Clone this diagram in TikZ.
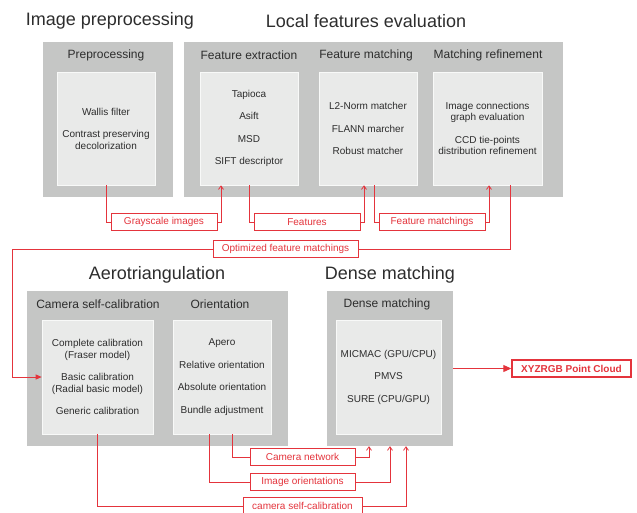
\documentclass[tikz,border=0pt]{standalone}
\usepackage{fontspec}
\setmainfont{Liberation Sans}
\usetikzlibrary{arrows.meta}
\definecolor{outerg}{RGB}{197,198,197}
\definecolor{innerg}{RGB}{233,234,233}
\definecolor{lred}{RGB}{228,52,60}
\definecolor{txt}{RGB}{45,45,45}
\tikzset{
  title/.style={font=\fontsize{18}{20}\selectfont, text=txt},
  seclabel/.style={font=\fontsize{12}{14}\selectfont, text=txt},
  outerbox/.style={fill=outerg, draw=none, inner sep=0pt},
  innerbox/.style={fill=innerg, draw=white!70!innerg, line width=0.6pt, inner sep=0pt, align=center, text=txt, font=\fontsize{10}{11.5}\selectfont},
  tag/.style={draw=lred, fill=white, line width=0.8pt, text=lred, font=\fontsize{10}{12}\selectfont, inner sep=0pt, minimum height=17pt},
  conn/.style={draw=lred, line width=0.8pt},
  arr/.style={conn, -{Straight Barb[length=3.5pt,width=5pt]}},
  bigarr/.style={conn, line width=1pt, -{Triangle[length=8pt,width=7pt]}},
}
\begin{document}
\begin{tikzpicture}[x=1pt,y=-1pt]
\useasboundingbox (0,0) rectangle (637,512);
% titles
\node[title] (t1) at (110,21) {Image preprocessing};
\node[title] (t2) at (366,21) {Local features evaluation};
\node[title] (t3) at (157,275) {Aerotriangulation};
\node[title] (t4) at (390,275) {Dense matching};
% outer boxes
\node[outerbox, minimum width=130pt, minimum height=155pt] (preOut) at (108,119.5) {};
\node[outerbox, minimum width=379pt, minimum height=155pt] (lfeOut) at (373.5,119.5) {};
\node[outerbox, minimum width=261pt, minimum height=155pt] (aeroOut) at (157.5,368.5) {};
\node[outerbox, minimum width=126pt, minimum height=155pt] (denseOut) at (390,368.5) {};
% section labels
\node[seclabel] (l1) at (106,55) {Preprocessing};
\node[seclabel] (l2) at (249,55) {Feature extraction};
\node[seclabel] (l3) at (366,55) {Feature matching};
\node[seclabel] (l4) at (488,55) {Matching refinement};
\node[seclabel] (l5) at (98,304) {Camera self-calibration};
\node[seclabel] (l6) at (220,304) {Orientation};
\node[seclabel] (l7) at (387,304) {Dense matching};
% inner boxes
\node[innerbox, minimum width=98pt, minimum height=113pt] (preIn) at (106,128.5)
  {Wallis filter\\[11pt]Contrast preserving\\decolorization};
\node[innerbox, minimum width=98pt, minimum height=113pt] (feIn) at (249,128.5)
  {Tapioca\\[11pt]Asift\\[11pt]MSD\\[11pt]SIFT descriptor};
\node[innerbox, minimum width=98pt, minimum height=113pt] (fmIn) at (368,128.5)
  {L2-Norm matcher\\[11pt]FLANN marcher\\[11pt]Robust matcher};
\node[innerbox, minimum width=109pt, minimum height=113pt] (mrIn) at (487.5,128.5)
  {Image connections\\graph evaluation\\[11pt]CCD tie-points\\distribution refinement};
\node[innerbox, minimum width=111pt, minimum height=114pt] (camIn) at (97.5,377)
  {Complete calibration\\(Fraser model)\\[11pt]Basic calibration\\(Radial basic model)\\[11pt]Generic calibration};
\node[innerbox, minimum width=98pt, minimum height=114pt] (oriIn) at (222,377)
  {Apero\\[11pt]Relative orientation\\[11pt]Absolute orientation\\[11pt]Bundle adjustment};
\node[innerbox, minimum width=105pt, minimum height=114pt] (denseIn) at (388.5,377)
  {MICMAC (GPU/CPU)\\[11pt]PMVS\\[11pt]SURE (CPU/GPU)};
% tags
\node[tag, minimum width=106pt] (gray) at (164,222) {Grayscale images};
\node[tag, minimum width=106pt] (feat) at (307,222) {Features};
\node[tag, minimum width=106pt] (fmat) at (432,222) {Feature matchings};
\node[tag, minimum width=145pt] (opt) at (285.5,249) {Optimized feature matchings};
\node[tag, minimum width=105pt] (camnet) at (302.5,457) {Camera network};
\node[tag, minimum width=105pt] (imgor) at (302.5,482) {Image orientations};
\node[tag, minimum width=119pt] (camsc) at (302.5,506) {camera self-calibration};
\node[draw=lred, fill=white, line width=1.4pt, text=lred, font=\fontsize{10}{12}\selectfont\bfseries, inner sep=0pt, minimum width=119pt, minimum height=17pt] (xyz) at (571.5,368.5) {XYZRGB Point Cloud};
% connectors
\draw[conn] (preIn.south) |- (gray.west);
\draw[arr] (gray.east) -| ([xshift=-28pt]feIn.south);
\draw[conn] (feIn.south) |- (feat.west);
\draw[arr] (feat.east) -| ([xshift=-4pt]fmIn.south);
\draw[conn] ([xshift=6pt]fmIn.south) |- (fmat.west);
\draw[arr] (fmat.east) -| ([xshift=1.5pt]mrIn.south);
\draw[conn] ([xshift=22.5pt]mrIn.south) |- (opt.east);
\coordinate (lc) at (12,249);
\draw[conn, -{Triangle[length=6pt,width=5pt]}] (opt.west) -- (lc) |- (camIn.west);
\draw[bigarr] (denseOut.east |- xyz.west) -- (xyz.west);
\draw[conn] ([xshift=10pt]oriIn.south) |- (camnet.west);
\draw[arr] (camnet.east) -| ([xshift=-21pt]denseOut.south);
\draw[conn] ([xshift=-13pt]oriIn.south) |- (imgor.west);
\draw[arr] (imgor.east) -| (denseOut.south);
\draw[conn] (camIn.south) |- (camsc.west);
\draw[arr] (camsc.east) -| ([xshift=16pt]denseOut.south);
\end{tikzpicture}
\end{document}
